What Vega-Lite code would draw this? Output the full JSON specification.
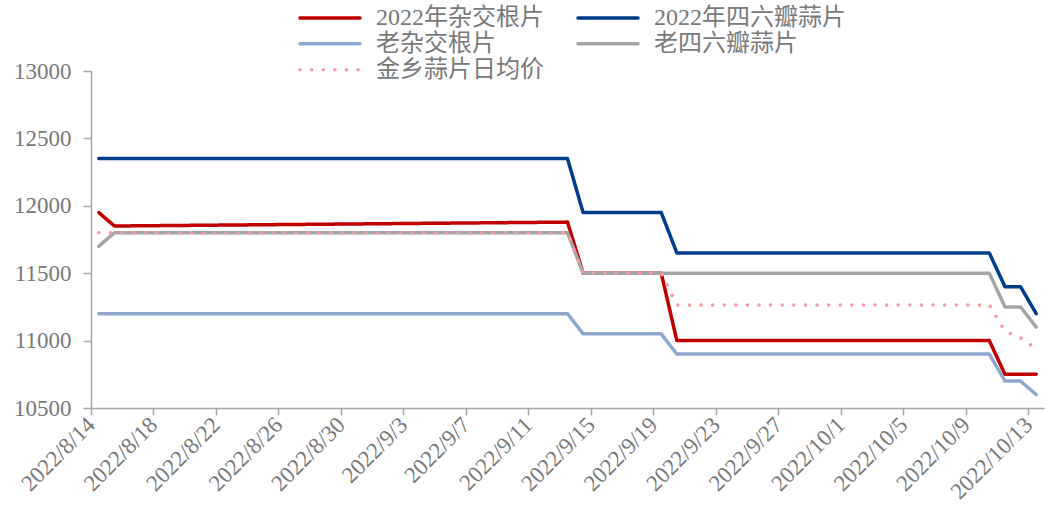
{
  "$schema": "https://vega.github.io/schema/vega-lite/v6.json",
  "width": 953,
  "height": 337,
  "autosize": "none",
  "padding": {"left": 91, "top": 71, "right": 2, "bottom": 107},
  "background": "white",
  "config": {"view": {"stroke": null}, "font": "Liberation Serif, Noto Sans CJK SC"},
  "data": {"values": [
    {"date": "2022/08/14", "2022年杂交根片": 11950, "2022年四六瓣蒜片": 12350, "老杂交根片": 11200, "老四六瓣蒜片": 11700, "金乡蒜片日均价": 11800},
    {"date": "2022/08/15", "2022年杂交根片": 11850, "2022年四六瓣蒜片": 12350, "老杂交根片": 11200, "老四六瓣蒜片": 11800, "金乡蒜片日均价": 11800},
    {"date": "2022/08/16", "2022年杂交根片": 11851, "2022年四六瓣蒜片": 12350, "老杂交根片": 11200, "老四六瓣蒜片": 11800, "金乡蒜片日均价": 11800},
    {"date": "2022/08/17", "2022年杂交根片": 11852, "2022年四六瓣蒜片": 12350, "老杂交根片": 11200, "老四六瓣蒜片": 11800, "金乡蒜片日均价": 11800},
    {"date": "2022/08/18", "2022年杂交根片": 11853, "2022年四六瓣蒜片": 12350, "老杂交根片": 11200, "老四六瓣蒜片": 11800, "金乡蒜片日均价": 11800},
    {"date": "2022/08/19", "2022年杂交根片": 11854, "2022年四六瓣蒜片": 12350, "老杂交根片": 11200, "老四六瓣蒜片": 11800, "金乡蒜片日均价": 11800},
    {"date": "2022/08/20", "2022年杂交根片": 11855, "2022年四六瓣蒜片": 12350, "老杂交根片": 11200, "老四六瓣蒜片": 11800, "金乡蒜片日均价": 11800},
    {"date": "2022/08/21", "2022年杂交根片": 11856, "2022年四六瓣蒜片": 12350, "老杂交根片": 11200, "老四六瓣蒜片": 11800, "金乡蒜片日均价": 11800},
    {"date": "2022/08/22", "2022年杂交根片": 11857, "2022年四六瓣蒜片": 12350, "老杂交根片": 11200, "老四六瓣蒜片": 11800, "金乡蒜片日均价": 11800},
    {"date": "2022/08/23", "2022年杂交根片": 11858, "2022年四六瓣蒜片": 12350, "老杂交根片": 11200, "老四六瓣蒜片": 11800, "金乡蒜片日均价": 11800},
    {"date": "2022/08/24", "2022年杂交根片": 11859, "2022年四六瓣蒜片": 12350, "老杂交根片": 11200, "老四六瓣蒜片": 11800, "金乡蒜片日均价": 11800},
    {"date": "2022/08/25", "2022年杂交根片": 11860, "2022年四六瓣蒜片": 12350, "老杂交根片": 11200, "老四六瓣蒜片": 11800, "金乡蒜片日均价": 11800},
    {"date": "2022/08/26", "2022年杂交根片": 11861, "2022年四六瓣蒜片": 12350, "老杂交根片": 11200, "老四六瓣蒜片": 11800, "金乡蒜片日均价": 11800},
    {"date": "2022/08/27", "2022年杂交根片": 11862, "2022年四六瓣蒜片": 12350, "老杂交根片": 11200, "老四六瓣蒜片": 11800, "金乡蒜片日均价": 11800},
    {"date": "2022/08/28", "2022年杂交根片": 11863, "2022年四六瓣蒜片": 12350, "老杂交根片": 11200, "老四六瓣蒜片": 11800, "金乡蒜片日均价": 11800},
    {"date": "2022/08/29", "2022年杂交根片": 11864, "2022年四六瓣蒜片": 12350, "老杂交根片": 11200, "老四六瓣蒜片": 11800, "金乡蒜片日均价": 11800},
    {"date": "2022/08/30", "2022年杂交根片": 11865, "2022年四六瓣蒜片": 12350, "老杂交根片": 11200, "老四六瓣蒜片": 11800, "金乡蒜片日均价": 11800},
    {"date": "2022/08/31", "2022年杂交根片": 11866, "2022年四六瓣蒜片": 12350, "老杂交根片": 11200, "老四六瓣蒜片": 11800, "金乡蒜片日均价": 11800},
    {"date": "2022/09/01", "2022年杂交根片": 11867, "2022年四六瓣蒜片": 12350, "老杂交根片": 11200, "老四六瓣蒜片": 11800, "金乡蒜片日均价": 11800},
    {"date": "2022/09/02", "2022年杂交根片": 11868, "2022年四六瓣蒜片": 12350, "老杂交根片": 11200, "老四六瓣蒜片": 11800, "金乡蒜片日均价": 11800},
    {"date": "2022/09/03", "2022年杂交根片": 11869, "2022年四六瓣蒜片": 12350, "老杂交根片": 11200, "老四六瓣蒜片": 11800, "金乡蒜片日均价": 11800},
    {"date": "2022/09/04", "2022年杂交根片": 11870, "2022年四六瓣蒜片": 12350, "老杂交根片": 11200, "老四六瓣蒜片": 11800, "金乡蒜片日均价": 11800},
    {"date": "2022/09/05", "2022年杂交根片": 11871, "2022年四六瓣蒜片": 12350, "老杂交根片": 11200, "老四六瓣蒜片": 11800, "金乡蒜片日均价": 11800},
    {"date": "2022/09/06", "2022年杂交根片": 11872, "2022年四六瓣蒜片": 12350, "老杂交根片": 11200, "老四六瓣蒜片": 11800, "金乡蒜片日均价": 11800},
    {"date": "2022/09/07", "2022年杂交根片": 11873, "2022年四六瓣蒜片": 12350, "老杂交根片": 11200, "老四六瓣蒜片": 11800, "金乡蒜片日均价": 11800},
    {"date": "2022/09/08", "2022年杂交根片": 11874, "2022年四六瓣蒜片": 12350, "老杂交根片": 11200, "老四六瓣蒜片": 11800, "金乡蒜片日均价": 11800},
    {"date": "2022/09/09", "2022年杂交根片": 11875, "2022年四六瓣蒜片": 12350, "老杂交根片": 11200, "老四六瓣蒜片": 11800, "金乡蒜片日均价": 11800},
    {"date": "2022/09/10", "2022年杂交根片": 11876, "2022年四六瓣蒜片": 12350, "老杂交根片": 11200, "老四六瓣蒜片": 11800, "金乡蒜片日均价": 11800},
    {"date": "2022/09/11", "2022年杂交根片": 11877, "2022年四六瓣蒜片": 12350, "老杂交根片": 11200, "老四六瓣蒜片": 11800, "金乡蒜片日均价": 11800},
    {"date": "2022/09/12", "2022年杂交根片": 11878, "2022年四六瓣蒜片": 12350, "老杂交根片": 11200, "老四六瓣蒜片": 11800, "金乡蒜片日均价": 11800},
    {"date": "2022/09/13", "2022年杂交根片": 11879, "2022年四六瓣蒜片": 12350, "老杂交根片": 11200, "老四六瓣蒜片": 11800, "金乡蒜片日均价": 11800},
    {"date": "2022/09/14", "2022年杂交根片": 11500, "2022年四六瓣蒜片": 11950, "老杂交根片": 11050, "老四六瓣蒜片": 11500, "金乡蒜片日均价": 11500},
    {"date": "2022/09/15", "2022年杂交根片": 11500, "2022年四六瓣蒜片": 11950, "老杂交根片": 11050, "老四六瓣蒜片": 11500, "金乡蒜片日均价": 11500},
    {"date": "2022/09/16", "2022年杂交根片": 11500, "2022年四六瓣蒜片": 11950, "老杂交根片": 11050, "老四六瓣蒜片": 11500, "金乡蒜片日均价": 11500},
    {"date": "2022/09/17", "2022年杂交根片": 11500, "2022年四六瓣蒜片": 11950, "老杂交根片": 11050, "老四六瓣蒜片": 11500, "金乡蒜片日均价": 11500},
    {"date": "2022/09/18", "2022年杂交根片": 11500, "2022年四六瓣蒜片": 11950, "老杂交根片": 11050, "老四六瓣蒜片": 11500, "金乡蒜片日均价": 11500},
    {"date": "2022/09/19", "2022年杂交根片": 11500, "2022年四六瓣蒜片": 11950, "老杂交根片": 11050, "老四六瓣蒜片": 11500, "金乡蒜片日均价": 11500},
    {"date": "2022/09/20", "2022年杂交根片": 11000, "2022年四六瓣蒜片": 11650, "老杂交根片": 10900, "老四六瓣蒜片": 11500, "金乡蒜片日均价": 11265},
    {"date": "2022/09/21", "2022年杂交根片": 11000, "2022年四六瓣蒜片": 11650, "老杂交根片": 10900, "老四六瓣蒜片": 11500, "金乡蒜片日均价": 11265},
    {"date": "2022/09/22", "2022年杂交根片": 11000, "2022年四六瓣蒜片": 11650, "老杂交根片": 10900, "老四六瓣蒜片": 11500, "金乡蒜片日均价": 11265},
    {"date": "2022/09/23", "2022年杂交根片": 11000, "2022年四六瓣蒜片": 11650, "老杂交根片": 10900, "老四六瓣蒜片": 11500, "金乡蒜片日均价": 11265},
    {"date": "2022/09/24", "2022年杂交根片": 11000, "2022年四六瓣蒜片": 11650, "老杂交根片": 10900, "老四六瓣蒜片": 11500, "金乡蒜片日均价": 11265},
    {"date": "2022/09/25", "2022年杂交根片": 11000, "2022年四六瓣蒜片": 11650, "老杂交根片": 10900, "老四六瓣蒜片": 11500, "金乡蒜片日均价": 11265},
    {"date": "2022/09/26", "2022年杂交根片": 11000, "2022年四六瓣蒜片": 11650, "老杂交根片": 10900, "老四六瓣蒜片": 11500, "金乡蒜片日均价": 11265},
    {"date": "2022/09/27", "2022年杂交根片": 11000, "2022年四六瓣蒜片": 11650, "老杂交根片": 10900, "老四六瓣蒜片": 11500, "金乡蒜片日均价": 11265},
    {"date": "2022/09/28", "2022年杂交根片": 11000, "2022年四六瓣蒜片": 11650, "老杂交根片": 10900, "老四六瓣蒜片": 11500, "金乡蒜片日均价": 11265},
    {"date": "2022/09/29", "2022年杂交根片": 11000, "2022年四六瓣蒜片": 11650, "老杂交根片": 10900, "老四六瓣蒜片": 11500, "金乡蒜片日均价": 11265},
    {"date": "2022/09/30", "2022年杂交根片": 11000, "2022年四六瓣蒜片": 11650, "老杂交根片": 10900, "老四六瓣蒜片": 11500, "金乡蒜片日均价": 11265},
    {"date": "2022/10/01", "2022年杂交根片": 11000, "2022年四六瓣蒜片": 11650, "老杂交根片": 10900, "老四六瓣蒜片": 11500, "金乡蒜片日均价": 11265},
    {"date": "2022/10/02", "2022年杂交根片": 11000, "2022年四六瓣蒜片": 11650, "老杂交根片": 10900, "老四六瓣蒜片": 11500, "金乡蒜片日均价": 11265},
    {"date": "2022/10/03", "2022年杂交根片": 11000, "2022年四六瓣蒜片": 11650, "老杂交根片": 10900, "老四六瓣蒜片": 11500, "金乡蒜片日均价": 11265},
    {"date": "2022/10/04", "2022年杂交根片": 11000, "2022年四六瓣蒜片": 11650, "老杂交根片": 10900, "老四六瓣蒜片": 11500, "金乡蒜片日均价": 11265},
    {"date": "2022/10/05", "2022年杂交根片": 11000, "2022年四六瓣蒜片": 11650, "老杂交根片": 10900, "老四六瓣蒜片": 11500, "金乡蒜片日均价": 11265},
    {"date": "2022/10/06", "2022年杂交根片": 11000, "2022年四六瓣蒜片": 11650, "老杂交根片": 10900, "老四六瓣蒜片": 11500, "金乡蒜片日均价": 11265},
    {"date": "2022/10/07", "2022年杂交根片": 11000, "2022年四六瓣蒜片": 11650, "老杂交根片": 10900, "老四六瓣蒜片": 11500, "金乡蒜片日均价": 11265},
    {"date": "2022/10/08", "2022年杂交根片": 11000, "2022年四六瓣蒜片": 11650, "老杂交根片": 10900, "老四六瓣蒜片": 11500, "金乡蒜片日均价": 11265},
    {"date": "2022/10/09", "2022年杂交根片": 11000, "2022年四六瓣蒜片": 11650, "老杂交根片": 10900, "老四六瓣蒜片": 11500, "金乡蒜片日均价": 11265},
    {"date": "2022/10/10", "2022年杂交根片": 11000, "2022年四六瓣蒜片": 11650, "老杂交根片": 10900, "老四六瓣蒜片": 11500, "金乡蒜片日均价": 11265},
    {"date": "2022/10/11", "2022年杂交根片": 10750, "2022年四六瓣蒜片": 11400, "老杂交根片": 10700, "老四六瓣蒜片": 11250, "金乡蒜片日均价": 11070},
    {"date": "2022/10/12", "2022年杂交根片": 10750, "2022年四六瓣蒜片": 11400, "老杂交根片": 10700, "老四六瓣蒜片": 11250, "金乡蒜片日均价": 11020},
    {"date": "2022/10/13", "2022年杂交根片": 10750, "2022年四六瓣蒜片": 11200, "老杂交根片": 10600, "老四六瓣蒜片": 11100, "金乡蒜片日均价": 10940}
  ]},
  "transform": [
    {"fold": ["2022年杂交根片", "2022年四六瓣蒜片", "老杂交根片", "老四六瓣蒜片", "金乡蒜片日均价"], "as": ["series", "price"]}
  ],
  "mark": {"type": "line", "strokeCap": "round", "strokeJoin": "round", "clip": true},
  "encoding": {
    "x": {
      "field": "date", "type": "temporal", "timeUnit": "yearmonthdate", "bandPosition": 0.5,
      "scale": {"domain": [{"year": 2022, "month": 8, "date": 14}, {"year": 2022, "month": 10, "date": 14}]},
      "axis": {
        "title": null, "grid": false,
        "values": [
          {"year": 2022, "month": 8, "date": 14}, {"year": 2022, "month": 8, "date": 18}, {"year": 2022, "month": 8, "date": 22},
          {"year": 2022, "month": 8, "date": 26}, {"year": 2022, "month": 8, "date": 30}, {"year": 2022, "month": 9, "date": 3},
          {"year": 2022, "month": 9, "date": 7}, {"year": 2022, "month": 9, "date": 11}, {"year": 2022, "month": 9, "date": 15},
          {"year": 2022, "month": 9, "date": 19}, {"year": 2022, "month": 9, "date": 23}, {"year": 2022, "month": 9, "date": 27},
          {"year": 2022, "month": 10, "date": 1}, {"year": 2022, "month": 10, "date": 5}, {"year": 2022, "month": 10, "date": 9},
          {"year": 2022, "month": 10, "date": 13}
        ],
        "format": "%Y/%-m/%-d", "formatType": "time",
        "labelAngle": -45, "labelAlign": "right", "labelBaseline": "middle",
        "labelFontSize": 23, "labelColor": "#7a7a7a", "labelPadding": 6,
        "labelOverlap": false, "labelFlush": false, "labelBound": false,
        "domainColor": "#a6a6a6", "domainWidth": 1.5,
        "tickColor": "#a6a6a6", "tickWidth": 1.5, "tickSize": 7
      }
    },
    "y": {
      "field": "price", "type": "quantitative",
      "scale": {"domain": [10500, 13000], "zero": false, "nice": false},
      "axis": {
        "title": null, "grid": false, "format": "d",
        "values": [10500, 11000, 11500, 12000, 12500, 13000],
        "labelFontSize": 23, "labelColor": "#7a7a7a", "labelPadding": 12,
        "domainColor": "#a6a6a6", "domainWidth": 1.5,
        "tickColor": "#a6a6a6", "tickWidth": 1.5, "tickSize": 8
      }
    },
    "color": {
      "field": "series", "type": "nominal",
      "scale": {
        "domain": ["2022年杂交根片", "2022年四六瓣蒜片", "老杂交根片", "老四六瓣蒜片", "金乡蒜片日均价"],
        "range": ["#c00000", "#003d8a", "#8ea8cd", "#a5a5a5", "#f29da8"]
      },
      "legend": {
        "title": null, "orient": "none", "legendX": 207, "legendY": -66,
        "direction": "horizontal", "columns": 2,
        "symbolType": "stroke", "symbolSize": 3600, "clipHeight": 25.5,
        "labelFontSize": 24, "labelColor": "#7a7a7a", "labelOffset": 14, "labelLimit": 400,
        "columnPadding": 32, "rowPadding": 0, "padding": 0,
        "encode": {"symbols": {"update": {"strokeCap": {"value": "round"}}}}
      }
    },
    "strokeDash": {
      "field": "series", "type": "nominal",
      "scale": {
        "domain": ["2022年杂交根片", "2022年四六瓣蒜片", "老杂交根片", "老四六瓣蒜片", "金乡蒜片日均价"],
        "range": [[1, 0], [1, 0], [1, 0], [1, 0], [0.1, 11.5]]
      }
    },
    "strokeWidth": {
      "field": "series", "type": "nominal",
      "scale": {
        "domain": ["2022年杂交根片", "2022年四六瓣蒜片", "老杂交根片", "老四六瓣蒜片", "金乡蒜片日均价"],
        "range": [3.5, 3.5, 3.5, 3.5, 6]
      }
    }
  }
}
